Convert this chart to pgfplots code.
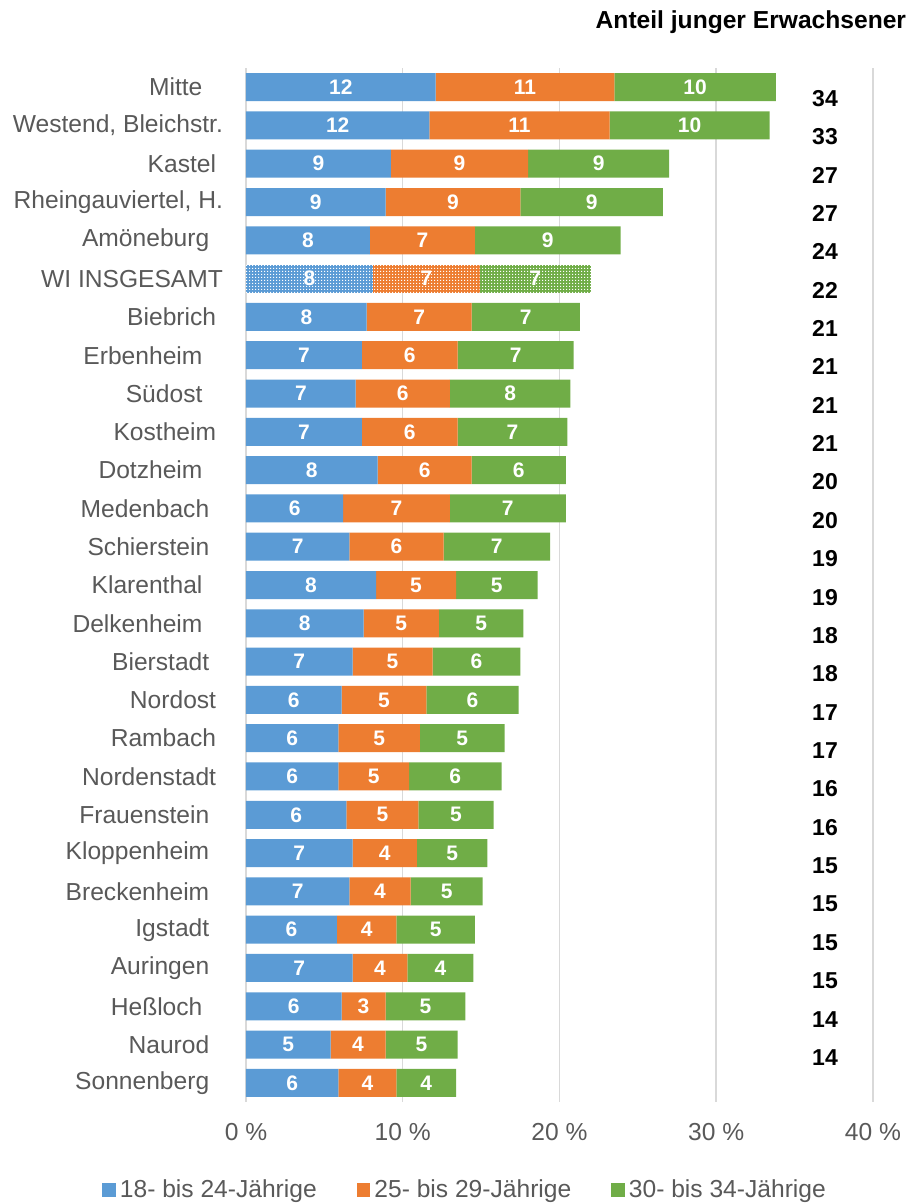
\documentclass[border=0pt]{standalone}
\usepackage{pgfplots}
\pgfplotsset{compat=1.18}
\usepackage{pgfplotstable}
\usetikzlibrary{patterns.meta}
\usepackage{fontspec}
\setmainfont{Liberation Sans}

\definecolor{cblue}{HTML}{5B9BD5}
\definecolor{corange}{HTML}{ED7D31}
\definecolor{cgreen}{HTML}{70AD47}
\definecolor{cgrid}{HTML}{D9D9D9}
\definecolor{ctext}{HTML}{595959}

% white dot grid for the city total
\tikzdeclarepattern{
  name=wdots, type=uncolored,
  bounding box={(0pt,0pt) and (1.6pt,1.6pt)},
  tile size={(1.6pt,1.6pt)},
  code={\fill (0pt,0pt) rectangle (0.75pt,0.75pt);}
}

\newcommand\lbl{\fontsize{12.3}{14}\selectfont}
\newcommand\seg{\fontsize{10.5}{12}\selectfont\bfseries}
\newcommand\tot{\fontsize{11.5}{13}\selectfont\bfseries}
\newcommand\tsp[1]{\hspace*{#1\dimexpr 0.278em\relax}}

% y = row, b/o/g = shares in %, w = 1 for the city total, bl/ol/gl = printed labels
\pgfplotstableread{
y  b    o    g    w  bl ol gl
0  12.1 11.4 10.3 0  12 11 10
1  11.7 11.5 10.2 0  12 11 10
2  9.25 8.75 9.0  0  9  9  9
3  8.9  8.6  9.1  0  9  9  9
4  7.9  6.7  9.3  0  8  7  9
5  8.1  6.8  7.1  1  8  7  7
6  7.7  6.7  6.9  0  8  7  7
7  7.4  6.1  7.4  0  7  6  7
8  7.0  6.0  7.7  0  7  6  8
9  7.4  6.1  7.0  0  7  6  7
10 8.4  6.0  6.0  0  8  6  6
11 6.2  6.8  7.4  0  6  7  7
12 6.6  6.0  6.8  0  7  6  7
13 8.3  5.1  5.2  0  8  5  5
14 7.5  4.8  5.4  0  8  5  5
15 6.8  5.1  5.6  0  7  5  6
16 6.1  5.4  5.9  0  6  5  6
17 5.9  5.2  5.4  0  6  5  5
18 5.9  4.5  5.9  0  6  5  6
19 6.4  4.6  4.8  0  6  5  5
20 6.8  4.1  4.5  0  7  4  5
21 6.6  3.9  4.6  0  7  4  5
22 5.8  3.8  5.0  0  6  4  5
23 6.8  3.5  4.2  0  7  4  4
24 6.1  2.8  5.1  0  6  3  5
25 5.4  3.5  4.6  0  5  4  5
26 5.9  3.7  3.8  0  6  4  4
}\shares

% totals column on the right, set a little below each bar
\pgfplotstableread{
x     y     t
36.94 0.29  34
36.94 1.29  33
36.94 2.30  27
36.94 3.30  27
36.94 4.30  24
36.94 5.30  22
36.94 6.30  21
36.94 7.30  21
36.94 8.31  21
36.94 9.31  21
36.94 10.31 20
36.94 11.31 20
36.94 12.31 19
36.94 13.32 19
36.94 14.32 18
36.94 15.32 18
36.94 16.32 17
36.94 17.32 17
36.94 18.32 16
36.94 19.33 16
36.94 20.33 15
36.94 21.33 15
36.94 22.33 15
36.94 23.33 15
36.94 24.34 14
36.94 25.34 14
}\totals

\pgfplotsset{
  base/.style={
    scale only axis, width=313.5pt, height=517pt,
    at={(123pt,51pt)}, anchor=south west,
    xmin=0, xmax=40, ymin=-0.5, ymax=26.5, y dir=reverse,
  },
  lab/.style={only marks, mark=none, nodes near coords,
    point meta=explicit symbolic,
    nodes near coords style={anchor=center, inner sep=0pt, font=\seg, text=white}},
}

\begin{document}
\begin{tikzpicture}
\useasboundingbox (0,0) rectangle (455pt,602pt);
\begin{axis}[
  base,
  xbar stacked,
  bar width = 14pt,
  xtick = {0,10,20,30,40},
  xticklabels = {0 \%,10 \%,20 \%,30 \%,40 \%},
  ytick = {0,...,26},
  yticklabels = {Mitte\tsp{3}, {Westend, Bleichstr.}, Kastel\tsp{1},
    {Rheingauviertel, H.}, Amöneburg\tsp{2}, WI INSGESAMT, Biebrich\tsp{1},
    Erbenheim\tsp{3}, Südost\tsp{3}, Kostheim\tsp{1}, Dotzheim\tsp{3},
    Medenbach\tsp{2}, Schierstein\tsp{2}, Klarenthal\tsp{3}, Delkenheim\tsp{3},
    Bierstadt\tsp{2}, Nordost\tsp{1}, Rambach\tsp{1}, Nordenstadt\tsp{1},
    Frauenstein\tsp{2}, Kloppenheim\tsp{2}, Breckenheim\tsp{2}, Igstadt\tsp{2},
    Auringen\tsp{2}, Heßloch\tsp{3}, Naurod\tsp{2}, Sonnenberg\tsp{2}},
  tick label style = {font=\lbl, text=ctext},
  yticklabel style = {anchor=east, xshift=-8pt},
  xticklabel style = {anchor=north, yshift=-7pt},
  major tick length = 0pt,
  xmajorgrids,
  grid style = {cgrid, line width=0.75pt},
  axis line style = {draw=none},
  title = {Anteil junger Erwachsener},
  every axis title shift = 0pt,
  title style = {at={(1.064,1.0445)}, anchor=east, font=\lbl\bfseries},
  legend columns = 3,
  legend image code/.code = {\fill[#1] (0pt,-3.4pt) rectangle (6.8pt,3.4pt);},
  legend style = {at={(0.351,-0.085)}, anchor=center, draw=none, fill=none,
    font=\lbl, text=ctext,
    /tikz/every even column/.append style={column sep=18pt}},
]
  \addplot[fill=cblue, draw=none]   table[x expr=\thisrow{b}*(1-\thisrow{w}), y=y] {\shares};
  \addplot[fill=corange, draw=none] table[x expr=\thisrow{o}*(1-\thisrow{w}), y=y] {\shares};
  \addplot[fill=cgreen, draw=none]  table[x expr=\thisrow{g}*(1-\thisrow{w}), y=y] {\shares};
  \addplot[forget plot, fill=cblue, draw=none, postaction={pattern=wdots, pattern color=white}]
    table[x expr=\thisrow{b}*\thisrow{w}, y=y] {\shares};
  \addplot[forget plot, fill=corange, draw=none, postaction={pattern=wdots, pattern color=white}]
    table[x expr=\thisrow{o}*\thisrow{w}, y=y] {\shares};
  \addplot[forget plot, fill=cgreen, draw=none, postaction={pattern=wdots, pattern color=white}]
    table[x expr=\thisrow{g}*\thisrow{w}, y=y] {\shares};
  \legend{18- bis 24-Jährige, 25- bis 29-Jährige, 30- bis 34-Jährige}
\end{axis}
\begin{axis}[base, hide axis]
  \addplot[lab] table[x expr=\thisrow{b}/2, y=y, meta=bl] {\shares};
  \addplot[lab] table[x expr=\thisrow{b}+\thisrow{o}/2, y=y, meta=ol] {\shares};
  \addplot[lab] table[x expr=\thisrow{b}+\thisrow{o}+\thisrow{g}/2, y=y, meta=gl] {\shares};
  \addplot[lab, nodes near coords style={font=\tot, text=black}]
    table[x=x, y=y, meta=t] {\totals};
\end{axis}
\end{tikzpicture}
\end{document}
